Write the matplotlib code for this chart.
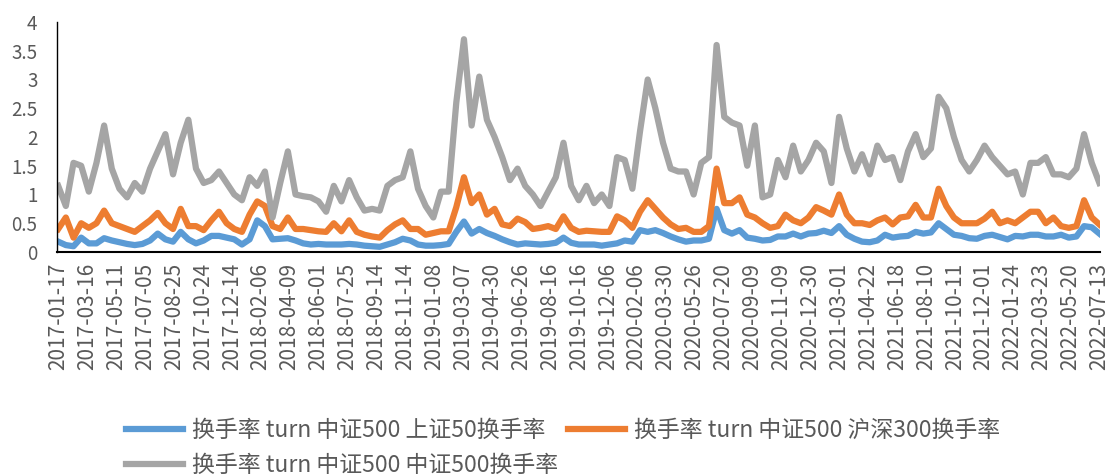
import numpy as np
import matplotlib
matplotlib.use("Agg")
import matplotlib.pyplot as plt
from matplotlib.ticker import FuncFormatter

plt.rcParams['font.family'] = ['Noto Sans CJK SC', 'DejaVu Sans']

# tick labels (dates)
date_labels = ["2017-01-17", "2017-03-16", "2017-05-11", "2017-07-05", "2017-08-25",
               "2017-10-24", "2017-12-14", "2018-02-06", "2018-04-09", "2018-06-01",
               "2018-07-25", "2018-09-14", "2018-11-14", "2019-01-08", "2019-03-07",
               "2019-04-30", "2019-06-26", "2019-08-16", "2019-10-16", "2019-12-06",
               "2020-02-06", "2020-03-30", "2020-05-26", "2020-07-20", "2020-09-09",
               "2020-11-09", "2020-12-30", "2021-03-01", "2021-04-22", "2021-06-18",
               "2021-08-10", "2021-10-11", "2021-12-01", "2022-01-24", "2022-03-23",
               "2022-05-20", "2022-07-13"]

sz50 = [0.18, 0.12, 0.10, 0.25, 0.15, 0.15, 0.24, 0.20, 0.17, 0.14, 0.12, 0.14,
        0.20, 0.32, 0.22, 0.18, 0.35, 0.22, 0.15, 0.20, 0.28, 0.28, 0.25, 0.22,
        0.13, 0.22, 0.55, 0.45, 0.22, 0.23, 0.24, 0.20, 0.15, 0.13, 0.14, 0.13,
        0.13, 0.13, 0.14, 0.13, 0.11, 0.10, 0.09, 0.13, 0.17, 0.23, 0.20, 0.13,
        0.11, 0.11, 0.12, 0.14, 0.35, 0.53, 0.32, 0.40, 0.33, 0.28, 0.22, 0.17,
        0.13, 0.15, 0.14, 0.13, 0.14, 0.16, 0.25, 0.16, 0.13, 0.13, 0.13, 0.11,
        0.13, 0.15, 0.20, 0.18, 0.38, 0.35, 0.38, 0.33, 0.27, 0.22, 0.18, 0.20,
        0.20, 0.23, 0.75, 0.38, 0.32, 0.38, 0.25, 0.23, 0.20, 0.21, 0.27, 0.27,
        0.32, 0.27, 0.32, 0.33, 0.37, 0.33, 0.45, 0.30, 0.23, 0.18, 0.17, 0.20,
        0.30, 0.25, 0.27, 0.28, 0.35, 0.32, 0.34, 0.50, 0.40, 0.30, 0.28, 0.24,
        0.23, 0.28, 0.30, 0.26, 0.22, 0.28, 0.27, 0.30, 0.30, 0.27, 0.27, 0.30,
        0.25, 0.27, 0.45, 0.43, 0.32]

hs300 = [0.40, 0.60, 0.25, 0.50, 0.42, 0.50, 0.72, 0.50, 0.45, 0.40, 0.35, 0.45,
         0.55, 0.68, 0.50, 0.40, 0.75, 0.45, 0.45, 0.38, 0.55, 0.70, 0.50, 0.40,
         0.35, 0.65, 0.88, 0.80, 0.45, 0.40, 0.60, 0.40, 0.40, 0.38, 0.36, 0.35,
         0.50, 0.36, 0.55, 0.35, 0.30, 0.27, 0.25, 0.38, 0.48, 0.55, 0.40, 0.40,
         0.30, 0.33, 0.36, 0.36, 0.78, 1.30, 0.85, 1.00, 0.65, 0.75, 0.48, 0.45,
         0.58, 0.52, 0.40, 0.42, 0.45, 0.40, 0.62, 0.42, 0.35, 0.37, 0.36, 0.35,
         0.35, 0.62, 0.55, 0.42, 0.70, 0.90, 0.75, 0.60, 0.48, 0.40, 0.42, 0.35,
         0.35, 0.45, 1.45, 0.85, 0.85, 0.95, 0.65, 0.60, 0.50, 0.42, 0.45, 0.65,
         0.55, 0.50, 0.60, 0.78, 0.72, 0.65, 1.00, 0.65, 0.50, 0.50, 0.47, 0.55,
         0.60, 0.48, 0.60, 0.62, 0.82, 0.60, 0.60, 1.10, 0.80, 0.60, 0.50, 0.50,
         0.50, 0.58, 0.70, 0.50, 0.55, 0.50, 0.60, 0.70, 0.70, 0.50, 0.60, 0.45,
         0.42, 0.45, 0.90, 0.60, 0.48]

zz500 = [1.15, 0.80, 1.55, 1.50, 1.05, 1.55, 2.20, 1.45, 1.10, 0.95, 1.20, 1.05,
         1.45, 1.75, 2.05, 1.35, 1.90, 2.30, 1.45, 1.20, 1.25, 1.40, 1.20, 1.00,
         0.90, 1.30, 1.15, 1.40, 0.60, 1.20, 1.75, 1.00, 0.97, 0.95, 0.88, 0.70,
         1.15, 0.88, 1.25, 0.95, 0.72, 0.75, 0.72, 1.15, 1.25, 1.30, 1.75, 1.10,
         0.80, 0.60, 1.05, 1.05, 2.60, 3.70, 2.20, 3.05, 2.30, 2.00, 1.65, 1.25,
         1.45, 1.15, 1.00, 0.80, 1.05, 1.30, 1.90, 1.15, 0.90, 1.15, 0.85, 1.00,
         0.80, 1.65, 1.60, 1.10, 2.10, 3.00, 2.50, 1.90, 1.45, 1.40, 1.40, 1.00,
         1.55, 1.65, 3.60, 2.35, 2.25, 2.20, 1.50, 2.20, 0.95, 1.00, 1.60, 1.30,
         1.85, 1.40, 1.60, 1.90, 1.75, 1.20, 2.35, 1.80, 1.40, 1.70, 1.35, 1.85,
         1.60, 1.65, 1.25, 1.75, 2.05, 1.65, 1.80, 2.70, 2.50, 2.00, 1.60, 1.40,
         1.60, 1.85, 1.65, 1.50, 1.35, 1.40, 1.00, 1.55, 1.55, 1.65, 1.35, 1.35,
         1.30, 1.45, 2.05, 1.55, 1.20]

names = ["换手率 turn 中证500 上证50换手率",
         "换手率 turn 中证500 沪深300换手率",
         "换手率 turn 中证500 中证500换手率"]
colors = ["#5B9BD5", "#ED7D31", "#A5A5A5"]

x = np.arange(len(zz500))

fig = plt.figure(figsize=(11.12, 4.76), dpi=100)
ax = fig.add_axes([0.0513, 0.4706, 0.9377, 0.4832])

lines = []
for vals, name, c in zip([sz50, hs300, zz500], names, colors):
    ln, = ax.plot(x, vals, color=c, lw=4.5, label=name, solid_joinstyle='round')
    lines.append(ln)

ax.set_xlim(-0.15, len(zz500) - 1 + 0.05)
ax.set_ylim(0, 4)
ax.set_yticks(np.arange(0, 4.01, 0.5))
ax.yaxis.set_major_formatter(FuncFormatter(lambda v, p: "{:g}".format(v)))
ax.set_xticks(np.linspace(0, len(zz500) - 1, len(date_labels)))
ax.set_xticklabels(date_labels, rotation=90)
ax.tick_params(axis='both', length=0, colors="#595959")
ax.tick_params(axis='y', labelsize=13.5, pad=14)
ax.tick_params(axis='x', labelsize=15, pad=8)

for s in ["top", "right"]:
    ax.spines[s].set_visible(False)
ax.spines["left"].set_color("black")
ax.spines["left"].set_linewidth(1.0)
ax.spines["bottom"].set_color("black")
ax.spines["bottom"].set_linewidth(1.5)

fig.legend([lines[0], lines[2], lines[1]], [names[0], names[2], names[1]],
           ncol=2, loc="upper left", bbox_to_anchor=(0.105, 0.14),
           frameon=False, fontsize=16.5, handlelength=2.5, handletextpad=0.4,
           columnspacing=0.4, labelcolor="#595959", labelspacing=0.55,
           borderaxespad=0)

fig.savefig("out.png", dpi=100)
